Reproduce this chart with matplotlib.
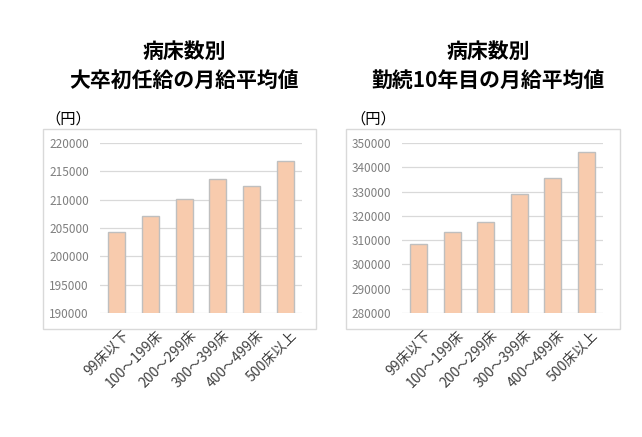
import matplotlib
matplotlib.use("Agg")
import matplotlib.pyplot as plt
import matplotlib.transforms as mtransforms
from matplotlib.patches import Rectangle

plt.rcParams['font.family'] = ['Noto Sans CJK JP', 'DejaVu Sans']

# 病床数の区分
categories = ['99床以下', '100～199床', '200～299床', '300～399床', '400～499床', '500床以上']

# 大卒初任給の月給平均値（円）
starting_pay = [204300, 207200, 210100, 213700, 212500, 216800]
starting_ticks = [190000, 195000, 200000, 205000, 210000, 215000, 220000]

# 勤続10年目の月給平均値（円）
tenyear_pay = [308300, 313400, 317600, 328900, 335600, 346200]
tenyear_ticks = [280000, 290000, 300000, 310000, 320000, 330000, 340000, 350000]

titles = ['病床数別\n大卒初任給の月給平均値', '病床数別\n勤続10年目の月給平均値']

BAR = '#F8CBAD'
EDGE = '#BFBFBF'
GRID = '#D9D9D9'

fig = plt.figure(figsize=(6.42, 4.37), dpi=100)
W, H = 642, 437


def px_axes(x0, y0, x1, y1):
    # ピクセル座標（上から）で軸を作る
    return fig.add_axes([x0 / W, 1 - y1 / H, (x1 - x0) / W, (y1 - y0) / H])


panels = [
    dict(ax=(100, 143, 302, 313), box=(43, 129, 316, 329), unit=(68, 119),
         title=184, values=starting_pay, ticks=starting_ticks),
    dict(ax=(402, 143, 603, 313), box=(346, 129, 620, 329), unit=(373, 119),
         title=488, values=tenyear_pay, ticks=tenyear_ticks),
]

for p, title in zip(panels, titles):
    # 外枠
    bx0, by0, bx1, by1 = p['box']
    fig.patches.append(Rectangle((bx0 / W, 1 - by1 / H), (bx1 - bx0) / W, (by1 - by0) / H,
                                 transform=fig.transFigure, fill=False,
                                 edgecolor=GRID, linewidth=1.0))

    ax = px_axes(*p['ax'])
    x = range(len(categories))
    ax.bar(x, p['values'], width=0.5, color=BAR, edgecolor=EDGE, linewidth=1.0, zorder=3)
    ax.set_xlim(-0.5, len(categories) - 0.5)
    ax.set_ylim(p['ticks'][0], p['ticks'][-1])
    ax.set_yticks(p['ticks'])
    ax.set_yticklabels([str(t) for t in p['ticks']], fontsize=8.5, color='#7F7F7F')
    ax.yaxis.grid(True, color=GRID, linewidth=0.9, zorder=0)
    ax.set_axisbelow(True)
    for s in ax.spines.values():
        s.set_visible(False)
    ax.tick_params(axis='both', length=0)
    ax.tick_params(axis='y', pad=8)
    ax.tick_params(axis='x', pad=8)
    ax.set_xticks(list(x))
    ax.set_xticklabels(categories, rotation=45, ha='right', rotation_mode='anchor',
                       fontsize=10, color='#404040')
    # ラベルを少し右下へずらす
    shift = mtransforms.ScaledTranslation(5 / 100, -4 / 100, fig.dpi_scale_trans)
    for lbl in ax.get_xticklabels():
        lbl.set_transform(lbl.get_transform() + shift)

    fig.text(p['title'] / W, 1 - 66 / H, title, ha='center', va='center',
             fontsize=15, fontweight='bold', linespacing=1.45)
    ux, uy = p['unit']
    fig.text(ux / W, 1 - uy / H, '（円）', ha='center', va='center', fontsize=11)

fig.savefig('out.png', dpi=100, facecolor='white')
